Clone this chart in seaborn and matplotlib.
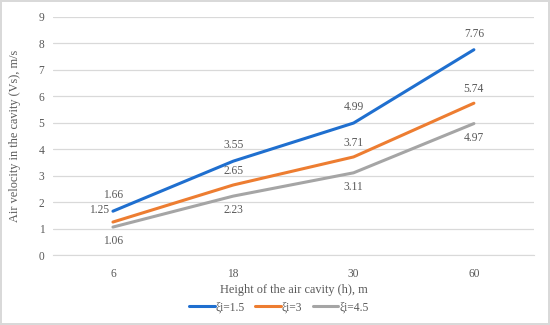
import numpy as np
import pandas as pd
import matplotlib
matplotlib.use("Agg")
import matplotlib.pyplot as plt
import seaborn as sns

# data
heights = ["6", "18", "30", "60"]
series_names = ["ξi=1.5", "ξi=3", "ξi=4.5"]
v_15 = [1.66, 3.55, 4.99, 7.76]
v_3 = [1.25, 2.65, 3.71, 5.74]
v_45 = [1.06, 2.23, 3.11, 4.97]
colors = ["#1f6fcf", "#ed7d31", "#a5a5a5"]

df = pd.DataFrame({
    "h": heights * 3,
    "v": v_15 + v_3 + v_45,
    "series": [s for s in series_names for _ in heights],
})

sns.set_style("white")
plt.rcParams["font.family"] = ["Liberation Serif", "DejaVu Serif"]
txt = "#595959"

fig = plt.figure(figsize=(5.5, 3.25), dpi=100)
fig.patch.set_edgecolor("#d9d9d9")
fig.patch.set_linewidth(1.5)
ax = fig.add_axes([0.096, 0.215, 0.875, 0.733])

sns.lineplot(data=df, x="h", y="v", hue="series", palette=colors,
             linewidth=2.2, sort=False, ax=ax)

ax.set_xlim(-0.5, 3.5)
ax.set_ylim(0, 9)
ax.set_yticks(range(10))
ax.grid(axis="y", color="#d9d9d9", linewidth=0.9)
ax.set_axisbelow(True)
for s in ["top", "right", "left"]:
    ax.spines[s].set_visible(False)
ax.spines["bottom"].set_color("#d9d9d9")
ax.tick_params(colors=txt, labelsize=8.3, length=0, pad=6)
ax.tick_params(axis="x", pad=9)
ax.set_xlabel("Height of the air cavity (h), m", color=txt, fontsize=8.8, labelpad=3)
ax.set_ylabel("Air velocity in the cavity (Vs), m/s", color=txt, fontsize=8.8, labelpad=13)

# data labels: blue/orange above, grey below (first orange one to the left)
fs = 8.3
for i, v in enumerate(v_15):
    ax.annotate(f"{v:.2f}", (i, v), xytext=(0, 7), textcoords="offset points",
                ha="center", va="bottom", fontsize=fs, color=txt)
for i, v in enumerate(v_3):
    if i == 0:
        ax.annotate(f"{v:.2f}", (i, v), xytext=(-3, 4), textcoords="offset points",
                    ha="right", va="bottom", fontsize=fs, color=txt)
    else:
        ax.annotate(f"{v:.2f}", (i, v), xytext=(0, 6), textcoords="offset points",
                    ha="center", va="bottom", fontsize=fs, color=txt)
for i, v in enumerate(v_45):
    ax.annotate(f"{v:.2f}", (i, v), xytext=(0, -6), textcoords="offset points",
                ha="center", va="top", fontsize=fs, color=txt)

ax.legend(loc="upper center", bbox_to_anchor=(0.47, -0.175), ncol=3, frameon=False,
          fontsize=8.3, labelcolor=txt, handlelength=2.2, handletextpad=0.1,
          columnspacing=0.9, borderaxespad=0)

fig.savefig("out.png", dpi=100)
